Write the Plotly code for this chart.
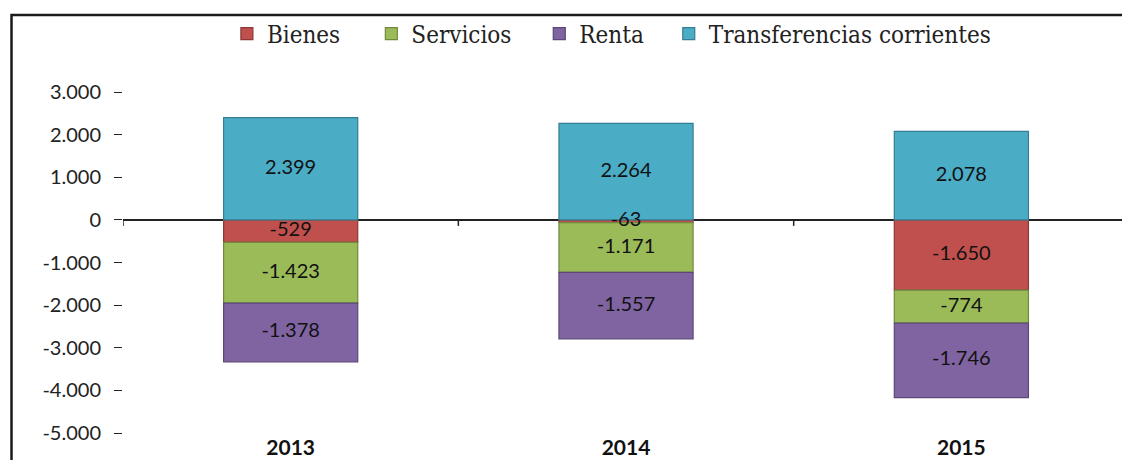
import plotly.graph_objects as go

years = ["2013", "2014", "2015"]
bienes = [-529, -63, -1650]
servicios = [-1423, -1171, -774]
renta = [-1378, -1557, -1746]
transferencias = [2399, 2264, 2078]

series_names = ["Bienes", "Servicios", "Renta", "Transferencias corrientes"]
series_values = [bienes, servicios, renta, transferencias]
fill_colors = ["#C0504D", "#9BBB59", "#8064A2", "#4BACC6"]
line_colors = ["#8C3836", "#71893F", "#5C4776", "#357D91"]

y_ticks = [3000, 2000, 1000, 0, -1000, -2000, -3000, -4000, -5000]


def fmt(v):
    s = f"{abs(v):,}".replace(",", ".")
    return ("-" if v < 0 else "") + s


SANS = "Lato, Liberation Sans, sans-serif"
SERIF = "DejaVu Serif Condensed, DejaVu Serif, serif"

legend_ids = ["legend", "legend2", "legend3", "legend4"]
legend_x = [0.1040, 0.2486, 0.4167, 0.5463]

fig = go.Figure()
for name, vals, fc, lc, lid in zip(series_names, series_values, fill_colors, line_colors, legend_ids):
    fig.add_trace(go.Bar(
        name=name,
        x=years,
        y=vals,
        marker=dict(color=fc, line=dict(color=lc, width=1.2)),
        hoverinfo="skip",
        legend=lid,
    ))

# value labels, centred in each stacked segment (drawn above all bars)
lab_x, lab_y, lab_t = [], [], []
pos_base = [0] * len(years)
neg_base = [0] * len(years)
for vals in series_values:
    for i, v in enumerate(vals):
        if v >= 0:
            mid = pos_base[i] + v / 2
            pos_base[i] += v
        else:
            mid = neg_base[i] + v / 2
            neg_base[i] += v
        lab_x.append(years[i])
        lab_y.append(mid)
        lab_t.append(fmt(v))
fig.add_trace(go.Scatter(
    x=lab_x, y=lab_y, text=lab_t, mode="text",
    textposition="middle center",
    textfont=dict(family=SANS, size=20, color="#111111"),
    showlegend=False, hoverinfo="skip", cliponaxis=False,
))

# category boundary ticks hanging from the zero line
shapes = []
for i in range(len(years) + 1):
    shapes.append(dict(
        type="line", xref="x", yref="y", ysizemode="pixel", yanchor=0,
        x0=i - 0.5, x1=i - 0.5, y0=0, y1=-6,
        line=dict(color="#222222", width=1.5),
    ))
# outer frame
shapes.append(dict(
    type="rect", xref="paper", yref="paper",
    x0=-0.1116, x1=1.05, y0=-0.3, y1=1.2258,
    line=dict(color="#1a1a1a", width=2.5), fillcolor="rgba(0,0,0,0)", layer="above",
))

legend_common = dict(
    orientation="h",
    xanchor="left",
    y=1.17, yanchor="middle",
    font=dict(family=SERIF, size=24, color="#222222"),
    itemwidth=30,
    bgcolor="rgba(0,0,0,0)",
)

fig.update_layout(
    barmode="relative",
    bargap=0.6,
    width=1114,
    height=452,
    margin=dict(l=114.5, r=0, t=84, b=27, autoexpand=False),
    paper_bgcolor="white",
    plot_bgcolor="white",
    showlegend=True,
    legend=dict(x=legend_x[0], **legend_common),
    legend2=dict(x=legend_x[1], **legend_common),
    legend3=dict(x=legend_x[2], **legend_common),
    legend4=dict(x=legend_x[3], **legend_common),
    xaxis=dict(
        type="category",
        range=[-0.5, 2.479],
        showline=False,
        showgrid=False,
        ticks="",
        tickfont=dict(family=SANS, size=21, color="#111111", weight="bold"),
        ticklabelstandoff=0,
        automargin=False,
    ),
    yaxis=dict(
        range=[-5000, 3000],
        tickvals=y_ticks,
        ticktext=[fmt(v) for v in y_ticks],
        showgrid=False,
        showline=False,
        zeroline=True,
        zerolinecolor="#222222",
        zerolinewidth=1.5,
        ticks="outside",
        ticklen=8,
        tickwidth=1.2,
        tickcolor="#222222",
        ticklabelstandoff=9,
        tickfont=dict(family=SANS, size=20, color="#222222"),
        automargin=False,
    ),
    shapes=shapes,
)

fig.write_html("out.html")
